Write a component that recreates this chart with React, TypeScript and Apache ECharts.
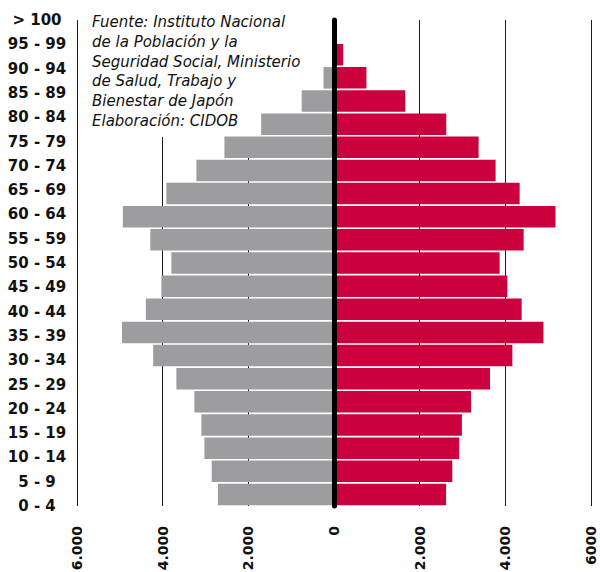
import React, { useEffect, useRef } from "react";
import * as echarts from "echarts";

const ageGroups = [
  "0 - 4", "5 - 9", "10 - 14", "15 - 19", "20 - 24", "25 - 29", "30 - 34",
  "35 - 39", "40 - 44", "45 - 49", "50 - 54", "55 - 59", "60 - 64", "65 - 69",
  "70 - 74", "75 - 79", "80 - 84", "85 - 89", "90 - 94", "95 - 99", "> 100",
];

// values in thousands of people (men drawn to the left)
const men = [
  2710, 2855, 3026, 3096, 3259, 3680, 4222, 4949, 4393, 4030, 3797, 4288,
  4930, 3914, 3213, 2558, 1700, 754, 245, 40, 0,
];
const women = [
  2617, 2762, 2923, 2986, 3201, 3643, 4164, 4890, 4381, 4047, 3867, 4428,
  5171, 4334, 3773, 3376, 2621, 1664, 757, 215, 0,
];

const xTicks = [-6000, -4000, -2000, 0, 2000, 4000, 6000];
const xTickLabels = ["6.000", "4.000", "2.000", "0", "2.000", "4.000", "6000"];

const sourceLines = [
  "Fuente: Instituto Nacional",
  "de la Población y la",
  "Seguridad Social, Ministerio",
  "de Salud, Trabajo y",
  "Bienestar de Japón",
  "Elaboración: CIDOB",
];

const GREY = "#9d9d9f";
const RED = "#cc003c";
const FONT = "DejaVu Sans";

export default function App() {
  const ref = useRef<HTMLDivElement>(null);

  useEffect(() => {
    if (!ref.current) return;
    const chart = echarts.init(ref.current, null, { renderer: "svg" });
    const option: any = {
      animation: false,
      backgroundColor: "#ffffff",
      grid: {
        left: 77,
        right: 9,
        top: 20,
        bottom: 66,
        containLabel: false,
        outerBoundsMode: "none",
      },
      xAxis: {
        type: "value",
        min: xTicks[0],
        max: xTicks[xTicks.length - 1],
        interval: 2000,
        z: 0,
        axisLine: { show: false },
        axisTick: { show: false },
        splitLine: { show: true, lineStyle: { color: "#1a1a1a", width: 1 } },
        axisLabel: {
          rotate: 90,
          margin: 20,
          color: "#111",
          fontFamily: FONT,
          fontWeight: "bold",
          fontSize: 14,
          formatter: (v: number) => {
            const i = xTicks.indexOf(v);
            return i >= 0 ? xTickLabels[i] : "";
          },
        },
      },
      yAxis: [
        {
          type: "category",
          data: ageGroups,
          boundaryGap: true,
          z: 3,
          axisLine: {
            show: true,
            onZero: true,
            lineStyle: { color: "#000", width: 5 },
          },
          axisTick: { show: false },
          axisLabel: { show: false },
          splitLine: { show: false },
        },
        {
          type: "category",
          data: ageGroups,
          boundaryGap: false,
          position: "left",
          axisLine: { show: false, onZero: false },
          axisTick: { show: false },
          splitLine: { show: false },
          axisLabel: {
            interval: 0,
            margin: 40,
            align: "center",
            color: "#111",
            fontFamily: FONT,
            fontWeight: "bold",
            fontSize: 15,
          },
        },
      ],
      series: [
        {
          name: "Hombres",
          type: "bar",
          yAxisIndex: 0,
          data: men.map((v) => -v),
          barGap: "-100%",
          barCategoryGap: "7%",
          itemStyle: { color: GREY },
          z: 2,
        },
        {
          name: "Mujeres",
          type: "bar",
          yAxisIndex: 0,
          data: women,
          barGap: "-100%",
          barCategoryGap: "7%",
          itemStyle: { color: RED },
          z: 2,
        },
      ],
      graphic: [
        {
          type: "rect",
          left: 84,
          top: 10,
          z: 1,
          shape: { width: 226, height: 127 },
          style: { fill: "#ffffff" },
        },
        {
          type: "text",
          left: 92,
          top: 12,
          z: 1,
          style: {
            text: sourceLines.join("\n"),
            fill: "#111",
            font: `italic 15px "${FONT}"`,
            lineHeight: 19.8,
          },
        },
      ],
    };
    chart.setOption(option);
    return () => chart.dispose();
  }, []);

  return (
    <div
      ref={ref}
      style={{ position: "fixed", left: 0, top: 0, width: 600, height: 572, background: "#fff" }}
    />
  );
}
